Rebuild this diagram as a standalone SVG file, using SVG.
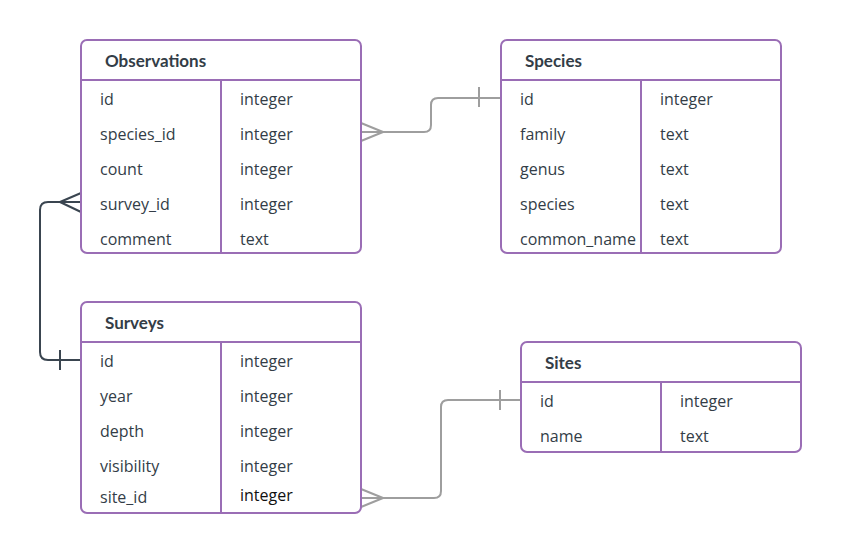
<svg xmlns="http://www.w3.org/2000/svg" width="841" height="554" viewBox="0 0 841 554">
<style>
.box{fill:#fff;stroke:#9a6db5;stroke-width:2}
.ln{stroke:#9a6db5;stroke-width:2;fill:none}
.t{font-family:"Open Sans",Lato,sans-serif;font-size:16px;fill:#333d47}
.h{font-family:Lato,"Open Sans",sans-serif;font-size:17px;font-weight:bold;fill:#333d47}
.g{fill:none;stroke:#9e9e9e;stroke-width:2}
.d{fill:none;stroke:#3a4550;stroke-width:2}
</style>
<rect width="841" height="554" fill="#fff"/>
<g id="connectors">
<path class="g" d="M361,132 H424 Q431,132 431,125 V105 Q431,98 438,98 H501"/>
<path class="g" d="M361,123 L383,132 M361,141 L383,132 M479,87 V107"/>
<path class="d" d="M81,202 H48 Q40,202 40,210 V352 Q40,360 48,360 H81"/>
<path class="d" d="M81,193 L60,202 M81,212 L60,202 M60,350 V370"/>
<path class="g" d="M361,498 H434 Q441,498 441,491 V407 Q441,400 448,400 H521"/>
<path class="g" d="M361,489 L383,498 M361,507 L383,498 M500,390 V410"/>
</g>
<g id="observations">
<rect class="box" x="81" y="40" width="280" height="213" rx="6"/>
<path class="ln" d="M81,80 H361 M221,80 V253"/>
<text class="h" x="105" y="67">Observations</text>
<text class="t" x="100" y="105">id</text><text class="t" x="240" y="105">integer</text>
<text class="t" x="100" y="140">species_id</text><text class="t" x="240" y="140">integer</text>
<text class="t" x="100" y="175">count</text><text class="t" x="240" y="175">integer</text>
<text class="t" x="100" y="210">survey_id</text><text class="t" x="240" y="210">integer</text>
<text class="t" x="100" y="245">comment</text><text class="t" x="240" y="245">text</text>
</g>
<g id="species">
<rect class="box" x="501" y="40" width="280" height="213" rx="6"/>
<path class="ln" d="M501,80 H781 M641,80 V253"/>
<text class="h" x="525" y="67">Species</text>
<text class="t" x="520" y="105">id</text><text class="t" x="660" y="105">integer</text>
<text class="t" x="520" y="140">family</text><text class="t" x="660" y="140">text</text>
<text class="t" x="520" y="175">genus</text><text class="t" x="660" y="175">text</text>
<text class="t" x="520" y="210">species</text><text class="t" x="660" y="210">text</text>
<text class="t" x="520" y="245">common_name</text><text class="t" x="660" y="245">text</text>
</g>
<g id="surveys">
<rect class="box" x="81" y="302" width="280" height="211" rx="6"/>
<path class="ln" d="M81,342 H361 M221,342 V513"/>
<text class="h" x="105" y="329">Surveys</text>
<text class="t" x="100" y="367">id</text><text class="t" x="240" y="367">integer</text>
<text class="t" x="100" y="402">year</text><text class="t" x="240" y="402">integer</text>
<text class="t" x="100" y="437">depth</text><text class="t" x="240" y="437">integer</text>
<text class="t" x="100" y="472">visibility</text><text class="t" x="240" y="472">integer</text>
<text class="t" x="100" y="503">site_id</text><text class="t" x="240" y="501" style="fill:#111">integer</text>
</g>
<g id="sites">
<rect class="box" x="521" y="342" width="280" height="110" rx="6"/>
<path class="ln" d="M521,382 H801 M661,382 V452"/>
<text class="h" x="545" y="369">Sites</text>
<text class="t" x="540" y="407">id</text><text class="t" x="680" y="407">integer</text>
<text class="t" x="540" y="442">name</text><text class="t" x="680" y="442">text</text>
</g>
</svg>
